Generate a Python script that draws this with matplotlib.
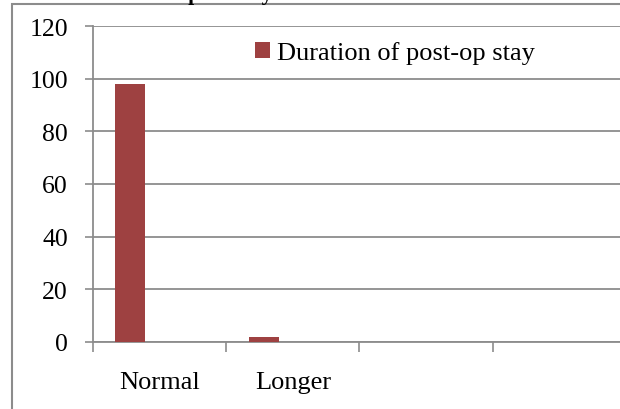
import matplotlib
matplotlib.use("Agg")
import matplotlib.pyplot as plt
from matplotlib.patches import Rectangle

categories = ["Normal", "Longer", "", ""]
stay = [98, 2, 0, 0]
yticks = [0, 20, 40, 60, 80, 100, 120]

plt.rcParams['font.family'] = ['Liberation Serif', 'DejaVu Serif']

fig = plt.figure(figsize=(6.2, 4.1), dpi=100)
ax = fig.add_axes([93 / 620, 67 / 410, 533 / 620, 316 / 410])

bar_color = '#9E4141'
grid_color = '#8c8c8c'

xs = [i + 0.28 for i in range(len(categories))]
ax.bar(xs, stay, width=0.225, color=bar_color, label='Duration of post-op stay', zorder=3)

ax.set_xlim(0, len(categories))
ax.set_ylim(0, 120)
ax.set_yticks(yticks)
ax.set_yticklabels([str(v) for v in yticks], fontsize=18.5)
ax.yaxis.grid(True, color=grid_color, linewidth=1.3, zorder=0)
ax.tick_params(axis='y', length=6, width=1.2, color=grid_color, pad=12)

# category boundaries get the tick marks, labels sit in the middle
ax.set_xticks(range(len(categories)))
ax.set_xticklabels([])
ax.tick_params(axis='x', which='major', length=7, width=1.2, color=grid_color)
ax.set_xticks([i + 0.5 for i in range(len(categories))], minor=True)
ax.set_xticklabels(categories, minor=True, fontsize=19)
ax.tick_params(axis='x', which='minor', length=0, pad=21)

for side in ['top', 'right']:
    ax.spines[side].set_visible(False)
for side in ['left', 'bottom']:
    ax.spines[side].set_color(grid_color)
    ax.spines[side].set_linewidth(1.3)

ax.legend(loc='upper left', bbox_to_anchor=(255 / 620, 1 - 42 / 410),
          bbox_transform=fig.transFigure, frameon=False, fontsize=19,
          handlelength=0.55, handleheight=0.55, handletextpad=0.3,
          borderpad=0, borderaxespad=0)

# outer chart border, cut off at right and bottom
fig.patches.append(Rectangle((12 / 620, -0.1), 1.0, 405 / 410 + 0.1,
                             transform=fig.transFigure, fill=False,
                             edgecolor=grid_color, linewidth=1.5))

# title mostly outside the image, only descenders visible
fig.text(40 / 620, 1.0, "Duration of Hospital stay", fontsize=15.5,
         fontweight='bold', ha='left', va='baseline')

fig.savefig("out.png", dpi=100)
